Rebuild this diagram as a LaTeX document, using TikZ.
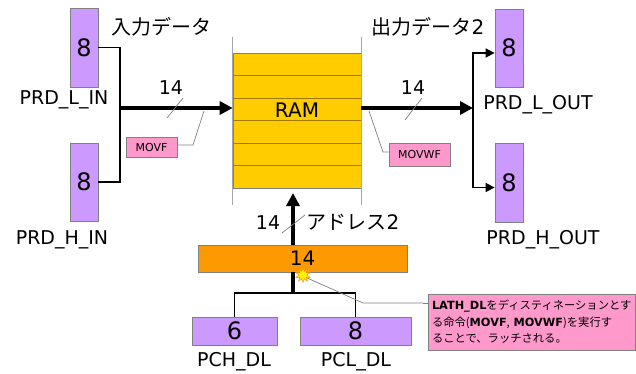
\documentclass[tikz,border=0pt]{standalone}
\usepackage{fontspec}
\setmainfont{DejaVu Sans}
\newfontfamily\jp{Noto Sans CJK JP}
\usetikzlibrary{arrows.meta,shapes.geometric,calc}
\definecolor{purp}{HTML}{CC99FF}
\definecolor{ramy}{HTML}{FFCC00}
\definecolor{ramline}{HTML}{A07A00}
\definecolor{orng}{HTML}{FF9900}
\definecolor{pinkb}{HTML}{FF99CC}
\definecolor{edgegray}{HTML}{808080}
\tikzset{
  regbox/.style={draw=edgegray, line width=0.8pt, fill=purp, inner sep=0pt, font=\fontsize{24}{26}\selectfont},
  lbl/.style={font=\fontsize{19}{22}\selectfont, inner sep=0pt},
  jlbl/.style={font=\jp\fontsize{20}{24}\selectfont, inner sep=0pt},
  tag/.style={draw=edgegray, line width=0.8pt, fill=pinkb, inner sep=0pt, font=\fontsize{11}{13}\selectfont},
  wire/.style={line width=1.6pt, black},
  bigarrow/.style={line width=3.5pt, -{Triangle[length=13pt,width=13pt]}},
  midarrow/.style={line width=1.6pt, -{Triangle[length=9pt,width=9pt]}},
  leader/.style={draw=gray, line width=0.7pt},
}
\begin{document}
\begin{tikzpicture}[x=1pt,y=-1pt]
\useasboundingbox (0,0) rectangle (636,374);
% input registers
\node[regbox, minimum width=28pt, minimum height=79pt] (inL) at (84,47.5) {8};
\node[regbox, minimum width=28pt, minimum height=78pt] (inH) at (84,182) {8};
\node[lbl] (inLlbl) at (64,100) {PRD\_L\_IN};
\node[lbl] (inHlbl) at (62,240) {PRD\_H\_IN};
\node[jlbl] (inhead) at (161,27) {入力データ};
\coordinate (jin) at (120,108);
\draw[wire] (inL.east) -| (jin) |- (inH.east);
% RAM
\node[draw=edgegray, line width=0.6pt, fill=ramy, minimum width=128pt, minimum height=135pt, inner sep=0pt] (ram) at (297,120.5) {};
\foreach \yy in {75.5,98,120.5,143,165.5}{
  \draw[ramline, line width=0.8pt] (ram.west |- 0,\yy) -- (ram.east |- 0,\yy);
}
\node[lbl, font=\fontsize{20}{22}\selectfont] (ramlbl) at (297,110) {RAM};
\draw[gray!70, line width=0.8pt] (ram.west |- 0,37) -- (ram.west |- 0,205);
\draw[gray!70, line width=0.8pt] (ram.east |- 0,37) -- (ram.east |- 0,205);
% input arrow
\draw[bigarrow] (jin) -- (jin -| ram.west);
\node[lbl] (n14a) at (171,88) {14};
\coordinate (s1a) at (167,118); \coordinate (s1b) at (183,98);
\draw[leader] (s1a) -- (s1b);
\node[tag, minimum width=51pt, minimum height=20pt] (movf) at (151.5,147) {MOVF};
\coordinate (la1) at (204,111); \coordinate (la2) at (193,145);
\draw[leader] (la1) -- (la2) -- (movf.east |- la2);
% output
\coordinate (jout) at (473,108);
\draw[bigarrow] (jout -| ram.east) -- (jout);
\node[lbl] (n14b) at (413,88) {14};
\coordinate (s2a) at (405,120); \coordinate (s2b) at (422,98);
\draw[leader] (s2a) -- (s2b);
\node[tag, minimum width=61pt, minimum height=23pt] (movwf) at (419.5,154.5) {MOVWF};
\coordinate (lb1) at (369,111); \coordinate (lb2) at (383,152);
\draw[leader] (lb1) -- (lb2) -- (movwf.west |- lb2);
\node[regbox, minimum width=28pt, minimum height=78pt] (outL) at (509,48) {8};
\node[regbox, minimum width=28pt, minimum height=79pt] (outH) at (509,182.5) {8};
\draw[midarrow] (jout) |- ([yshift=-5pt]outL.west);
\draw[midarrow] (jout) |- ([yshift=-5pt]outH.west);
\node[lbl] (outLlbl) at (538,105) {PRD\_L\_OUT};
\node[lbl] (outHlbl) at (543,240) {PRD\_H\_OUT};
\node[jlbl] (outhead) at (428,27) {出力データ{\fontspec{DejaVu Sans}2}};
% address
\node[draw=edgegray, line width=0.8pt, fill=orng, minimum width=209pt, minimum height=27pt, inner sep=0pt, font=\fontsize{20}{22}\selectfont] (addr) at (302.5,258.5) {14};
\coordinate (acol) at (293,193);
\draw[bigarrow] (acol |- addr.north) -- (acol);
\node[lbl] (n14c) at (268,223) {14};
\coordinate (s3a) at (282,233); \coordinate (s3b) at (305,215);
\draw[leader] (s3a) -- (s3b);
\node[jlbl] (addrhead) at (353,222) {アドレス{\fontspec{DejaVu Sans}2}};
\node[regbox, minimum width=85pt, minimum height=28pt] (pch) at (234.5,331) {6};
\node[regbox, minimum width=111pt, minimum height=28pt] (pcl) at (355.5,331) {8};
\node[lbl] (pchlbl) at (234,362) {PCH\_DL};
\node[lbl] (pcllbl) at (356,362) {PCL\_DL};
\coordinate (bj) at (293,293);
\draw[line width=3.5pt] (acol |- addr.south) -- (bj);
\draw[wire] (pch.north) |- (bj) -| (pcl.north);
% latch note
\coordinate (lc1) at (363,303);
\draw[leader] (305,277) -- (lc1) -- (423,303);
\node[star, star points=10, star point ratio=1.9, fill=yellow, draw=orange, line width=0.4pt, minimum size=15pt, inner sep=0pt] (burst) at (303,275) {};
\node[draw=edgegray, line width=0.8pt, fill=pinkb, minimum width=207pt, minimum height=56pt, inner sep=3pt, align=left, font=\jp\fontsize{11.3}{16.5}\selectfont, text width=199pt] (note) at (531.5,322) {{\fontspec{DejaVu Sans}\bfseries LATH\_DL}をディスティネーションとす\\る命令({\fontspec{DejaVu Sans}\bfseries MOVF}, {\fontspec{DejaVu Sans}\bfseries MOVWF})を実行す\\ることで、ラッチされる。};
\draw[leader] (423,303) -- (note.west |- 0,303);
\end{tikzpicture}
\end{document}
